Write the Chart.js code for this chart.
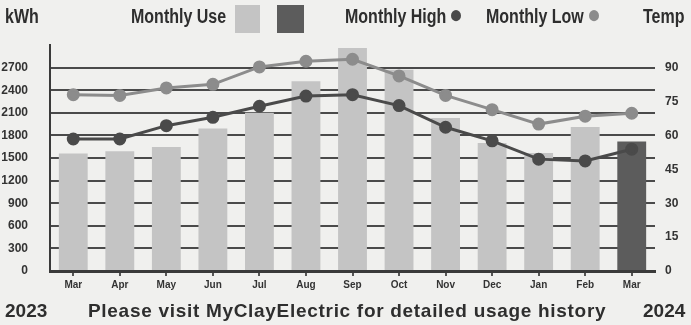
<!DOCTYPE html>
<html>
<head>
<meta charset="utf-8">
<script src="https://cdn.jsdelivr.net/npm/chart.js@4"></script>
<style>
  body { margin: 0; background: #f0f0ee; }
  .wrap { position: relative; width: 691px; height: 325px; overflow: hidden; background: #f0f0ee; }
  canvas { position: absolute; left: 0; top: 0; }
  .t { position: absolute; color: #2e2e2e; white-space: nowrap; }
  .hd { font-family: "Liberation Sans Narrow", "Arial Narrow", sans-serif; font-weight: bold; font-size: 16px; top: 5px; transform: scaleY(1.25); transform-origin: left top; }
  .ft { font-family: "Liberation Sans", Arial, sans-serif; font-weight: bold; font-size: 19px; top: 300px; letter-spacing: 0.7px; }
  .sw { position: absolute; top: 5px; height: 28px; }
  .dot { display: inline-block; width: 10px; height: 9px; border-radius: 50%; margin-left: 5px; vertical-align: 1px; }
</style>
</head>
<body>
<div class="wrap">
  <canvas id="chart" width="691" height="325"></canvas>
  <div class="t hd" style="left:5px">kWh</div>
  <div class="t hd" style="left:131px">Monthly Use</div>
  <div class="sw" style="left:235px;width:25px;background:#c4c4c4"></div>
  <div class="sw" style="left:277px;width:27px;background:#5c5c5c"></div>
  <div class="t hd" style="left:345px">Monthly High<span class="dot" style="background:#4a4a4a"></span></div>
  <div class="t hd" style="left:486px">Monthly Low<span class="dot" style="background:#8c8c8c"></span></div>
  <div class="t hd" style="left:643px">Temp</div>
  <div class="t ft" style="left:5px;letter-spacing:0">2023</div>
  <div class="t ft" style="left:88px">Please visit MyClayElectric for detailed usage history</div>
  <div class="t ft" style="left:643px;letter-spacing:0">2024</div>
</div>
<script>
const months = ['Mar', 'Apr', 'May', 'Jun', 'Jul', 'Aug', 'Sep', 'Oct', 'Nov', 'Dec', 'Jan', 'Feb', 'Mar'];
const usage = [1560, 1590, 1645, 1890, 2100, 2520, 2960, 2670, 2030, 1700, 1565, 1910, 1720];
const tempUpper = [78, 77.7, 81, 82.6, 90.3, 92.8, 93.7, 86.3, 77.7, 71.4, 65, 68.5, 69.8];
const tempLower = [58.4, 58.4, 64.3, 68, 72.9, 77.4, 78, 73.2, 63.6, 57.6, 49.5, 48.7, 53.9];
const kwhTicks = [0, 300, 600, 900, 1200, 1500, 1800, 2100, 2400, 2700];
const tempTicks = [0, 15, 30, 45, 60, 75, 90];

const barColors = usage.map((v, i) => i === usage.length - 1 ? '#5c5c5c' : '#c4c4c4');
const tickFont = { family: '"Liberation Sans", Arial, sans-serif', weight: 'bold', size: 12 };

new Chart(document.getElementById('chart'), {
    data: {
        labels: months,
        datasets: [
            {
                type: 'line',
                label: 'Upper',
                data: tempUpper,
                yAxisID: 'y1',
                borderColor: '#8c8c8c',
                backgroundColor: '#8c8c8c',
                borderWidth: 3,
                pointRadius: 5,
                tension: 0,
                order: 0
            },
            {
                type: 'line',
                label: 'Lower',
                data: tempLower,
                yAxisID: 'y1',
                borderColor: '#4a4a4a',
                backgroundColor: '#4a4a4a',
                borderWidth: 3,
                pointRadius: 5,
                tension: 0,
                order: 0
            },
            {
                type: 'bar',
                label: 'Monthly Use',
                data: usage,
                yAxisID: 'y',
                backgroundColor: barColors,
                categoryPercentage: 1,
                barPercentage: 0.62,
                order: 1
            }
        ]
    },
    options: {
        responsive: false,
        animation: false,
        layout: { padding: { top: 45, left: 0, right: 0, bottom: 0 } },
        plugins: { legend: { display: false }, tooltip: { enabled: false } },
        scales: {
            x: {
                grid: { offset: false, drawOnChartArea: false, tickLength: 5, color: '#555', lineWidth: 2 },
                border: { color: '#3a3a3a', width: 3 },
                ticks: { color: '#333', font: { family: '"Liberation Sans Narrow", "Arial Narrow", sans-serif', weight: 'bold', size: 10 }, padding: 3 },
                afterFit: (s) => { s.height = 54; }
            },
            y: {
                position: 'left',
                min: 0,
                max: 3000,
                afterBuildTicks: (s) => { s.ticks = kwhTicks.map(v => ({ value: v })); },
                grid: { color: '#4a4a4a', lineWidth: 2, drawTicks: false },
                border: { color: '#3a3a3a', width: 2 },
                ticks: { color: '#333', font: tickFont, padding: 22, callback: (v) => String(v) },
                afterFit: (s) => { s.width = 50; }
            },
            y1: {
                position: 'right',
                min: 0,
                max: 100,
                afterBuildTicks: (s) => { s.ticks = tempTicks.map(v => ({ value: v })); },
                grid: { display: false, drawTicks: false },
                border: { display: false },
                ticks: { color: '#333', font: tickFont, padding: 10, callback: (v) => String(v) },
                afterFit: (s) => { s.width = 36; }
            }
        }
    }
});
</script>
</body>
</html>
